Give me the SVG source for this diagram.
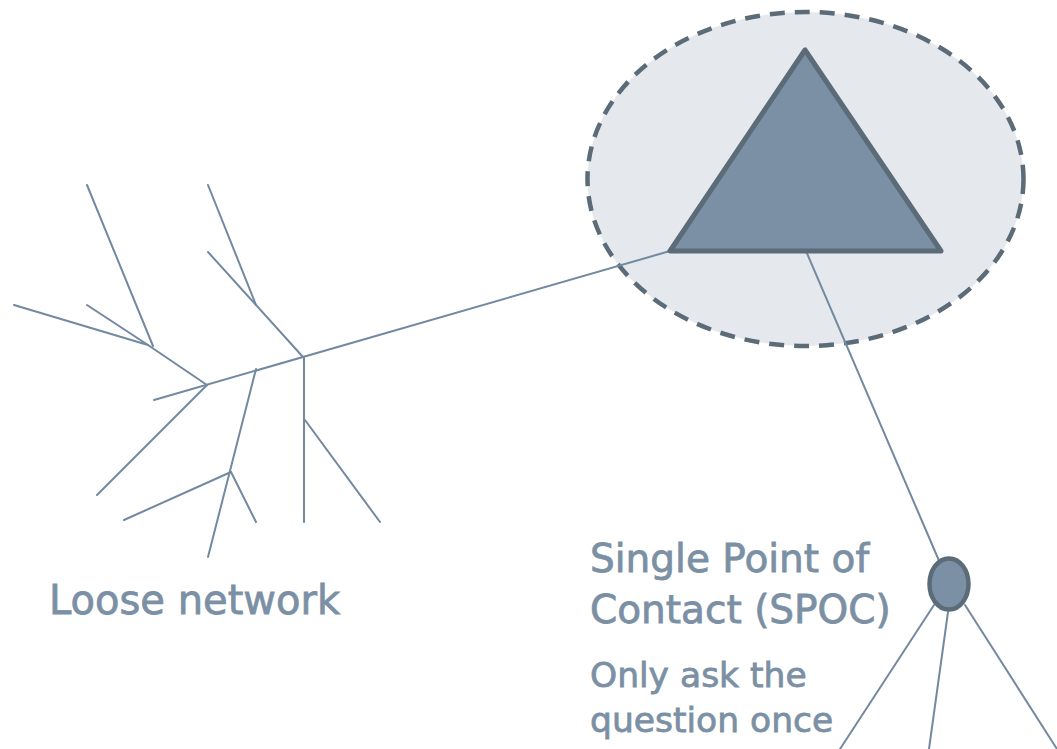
<svg xmlns="http://www.w3.org/2000/svg" width="1057" height="749" viewBox="0 0 1057 749">
<style>
.ln{stroke:#7389a0;stroke-width:2;fill:none;stroke-linecap:round}
.tx{font-family:"DejaVu Sans","Noto Sans",sans-serif;fill:#7b90a4;stroke:#7b90a4;stroke-width:0.8}
</style>
<rect width="1057" height="749" fill="#ffffff"/>
<g id="hub">
<ellipse cx="805.5" cy="179" rx="218" ry="167" fill="#e5e8ed" stroke="#5b6b78" stroke-width="4.5" stroke-dasharray="15,10"/>
</g>
<g id="connectors">
<line class="ln" x1="87" y1="185" x2="153" y2="346"/>
<line class="ln" x1="14" y1="305" x2="148" y2="345"/>
<line class="ln" x1="87" y1="305" x2="148" y2="345"/>
<line class="ln" x1="148" y1="345" x2="207" y2="385"/>
<line class="ln" x1="154" y1="400" x2="670" y2="251"/>
<line class="ln" x1="208" y1="185" x2="256" y2="305"/>
<line class="ln" x1="208" y1="252" x2="303" y2="357"/>
<line class="ln" x1="304" y1="357" x2="304" y2="522"/>
<line class="ln" x1="305" y1="420" x2="380" y2="522"/>
<line class="ln" x1="207" y1="385" x2="97" y2="495"/>
<line class="ln" x1="256" y1="369" x2="208" y2="557"/>
<line class="ln" x1="231" y1="472" x2="124" y2="520"/>
<line class="ln" x1="231" y1="472" x2="256" y2="522"/>
<line class="ln" x1="806" y1="251" x2="940" y2="563"/>
<line class="ln" x1="934" y1="605" x2="840" y2="749"/>
<line class="ln" x1="948" y1="612" x2="929" y2="749"/>
<line class="ln" x1="965" y1="605" x2="1057" y2="749"/>
</g>
<g id="triangle">
<polygon points="805,50 670,251 941,251" fill="#7b90a4" stroke="#5b6b78" stroke-width="5" stroke-linejoin="round"/>
</g>
<g id="spoc">
<ellipse cx="949" cy="584" rx="19.5" ry="25.5" fill="#7b90a4" stroke="#5b6b78" stroke-width="4.5"/>
</g>
<g id="labels">
<text class="tx" x="49" y="614" font-size="40">Loose network</text>
<text class="tx" x="590" y="572" font-size="39">Single Point of</text>
<text class="tx" x="590" y="623" font-size="39">Contact (SPOC)</text>
<text class="tx" x="590" y="687" font-size="34.5">Only ask the</text>
<text class="tx" x="590" y="732" font-size="34.5">question once</text>
</g>
</svg>
